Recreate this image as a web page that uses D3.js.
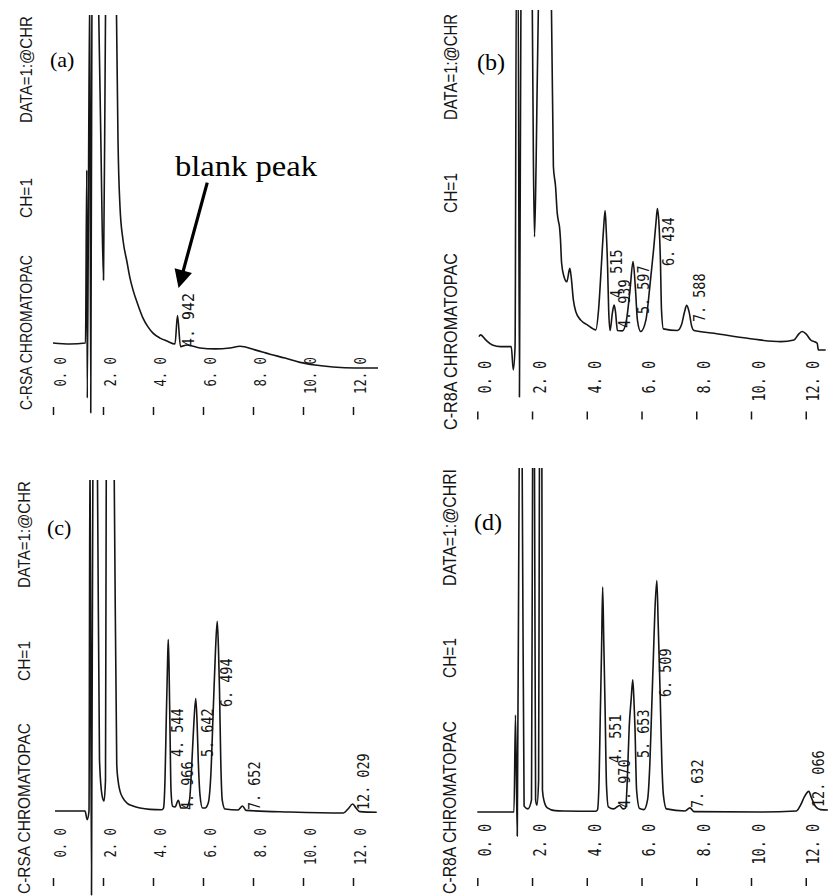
<!DOCTYPE html>
<html>
<head>
<meta charset="utf-8">
<script src="https://cdn.jsdelivr.net/npm/d3@7"></script>
<style>
  body { margin: 0; background: #fff; }
  svg { display: block; }
</style>
</head>
<body>
<div id="wrapper"></div>
<script>
// retention time axis (min)
const retentionTicks = [0, 2, 4, 6, 8, 10, 12]
const tickLabels = ['0. 0', '2. 0', '4. 0', '6. 0', '8. 0', '10. 0', '12. 0']
const panelNames = ['(a)', '(b)', '(c)', '(d)']

// printer header of each run
const headerA = ['C-RSA  CHROMATOPAC', 'CH=1', 'DATA=1:@CHR']
const headerB = ['C-R8A  CHROMATOPAC', 'CH=1', 'DATA=1:@CHR']
const headerC = ['C-RSA  CHROMATOPAC', 'CH=1', 'DATA=1:@CHR']
const headerD = ['C-R8A  CHROMATOPAC', 'CH=1', 'DATA=1:@CHRI']

// detector signal, [time (min), % of full scale]
const traceA = [
  [0, 0], [0.68, -0.3], [1.30, 0], [1.35, 52.7], [1.37, -16.8], [1.47, 110],
  [1.51, -21.3], [1.56, 110], [1.68, 130], [1.83, 100], [1.92, 58.8], [2.02, 19.2],
  [2.10, 100], [2.16, 130], [2.44, 130], [2.54, 100], [2.60, 61.9], [2.68, 41.5],
  [2.80, 31.4], [2.96, 24.7], [3.08, 19.8], [3.20, 16.2], [3.40, 11.6], [3.60, 7.6],
  [3.80, 4.9], [4.00, 3.0], [4.28, 1.5], [4.56, 0.6], [4.88, -0.3], [4.98, 8.4],
  [5.10, -1.1], [5.36, -0.6], [5.88, -1.5], [6.48, -1.8], [7.08, -1.5], [7.48, -1.0],
  [8.08, -2.1], [8.68, -3.4], [9.28, -4.6], [9.88, -5.9], [10.48, -6.7], [11.20, -7.3],
  [12.08, -7.6], [13.00, -7.6],
]
const traceB = [
  [0.06, 2.8], [0.12, 3.3], [0.31, 1.8], [0.55, 0.3], [0.86, -0.2], [1.24, -0.2],
  [1.315, -7.1], [1.38, -0.1], [1.43, 115], [1.49, 115], [1.54, -15.2], [1.60, 115],
  [1.93, 130], [2.01, 100], [2.05, 55], [2.09, 32.5], [2.15, 55], [2.23, 100],
  [2.47, 130], [2.71, 100], [2.78, 53.4], [2.86, 47.4], [2.92, 39.6], [2.97, 36.9],
  [3.00, 35.7], [3.04, 31.5], [3.08, 24.7], [3.17, 20.6], [3.27, 19.1], [3.38, 23.1],
  [3.43, 20.6], [3.51, 13.7], [3.60, 10.2], [3.78, 7.7], [4.02, 6.3], [4.33, 4.8],
  [4.43, 10.7], [4.53, 23.6], [4.61, 34.5], [4.67, 40.3], [4.71, 34.5], [4.76, 23.6],
  [4.80, 10.7], [4.85, 4.6], [4.94, 10.1], [5.00, 12.2], [5.05, 10.1], [5.12, 4.6],
  [5.30, 4.5], [5.45, 7.7], [5.58, 16.7], [5.69, 25.1], [5.78, 16.7], [5.85, 7.7],
  [5.97, 4.3], [6.16, 7.7], [6.31, 18.2], [6.44, 28.6], [6.53, 36.9], [6.58, 40.9],
  [6.64, 36.0], [6.69, 25.6], [6.73, 10.7], [6.80, 5.1], [7.31, 4.6], [7.46, 6.3],
  [7.57, 10.1], [7.65, 12.1], [7.74, 10.1], [7.83, 6.0], [7.92, 4.6], [8.65, 3.8],
  [9.87, 2.3], [11.09, 1.3], [11.57, 1.8], [11.75, 3.6], [11.87, 4.3], [12.01, 3.6],
  [12.18, 1.8], [12.42, 0.8], [12.46, -1.2], [12.73, -1.2],
]
const traceC = [
  [0.08, 0], [1.28, 0], [1.37, -2.6], [1.44, 0], [1.48, 115], [1.54, -25.4],
  [1.60, 115], [1.72, 130], [1.78, 100], [1.86, 15.4], [1.96, 4.8], [2.04, 3.0],
  [2.10, 9.4], [2.13, 100], [2.20, 130], [2.40, 130], [2.45, 100], [2.55, 14.0],
  [2.60, 9.4], [2.68, 6.0], [2.80, 3.9], [2.96, 2.4], [3.20, 1.5], [3.48, 0.9],
  [3.88, 0.5], [4.35, 0.4], [4.42, 0.9], [4.48, 9.4], [4.53, 27.5], [4.58, 44.1],
  [4.61, 51.8], [4.64, 44.1], [4.68, 24.5], [4.72, 6.3], [4.78, 1.5], [4.88, 1.2],
  [5.01, 3.2], [5.12, 0.9], [5.32, 0.9], [5.46, 3.3], [5.54, 12.4], [5.62, 24.5],
  [5.71, 34.0], [5.76, 27.5], [5.81, 15.4], [5.88, 4.8], [5.98, 0.9], [6.08, 0.9],
  [6.21, 2.4], [6.31, 10.4], [6.41, 30.5], [6.50, 48.6], [6.57, 57.3], [6.62, 48.6],
  [6.66, 36.6], [6.71, 15.4], [6.77, 3.3], [6.88, 0.6], [7.40, 0.3], [7.58, 1.5],
  [7.72, 0.2], [9.48, -0.3], [11.61, -0.6], [11.80, 0.6], [11.99, 2.1], [12.12, 0.9],
  [12.28, -0.2], [12.95, -0.4],
]
const traceD = [
  [0, 0], [1.34, 0], [1.395, 28.2], [1.46, -7.0], [1.53, 100], [1.59, 125],
  [1.64, 100], [1.71, 1.7], [1.85, 0.9], [1.98, 3.5], [2.02, 100], [2.05, 125],
  [2.09, 100], [2.13, 3.5], [2.18, 2.0], [2.24, 9.3], [2.27, 100], [2.31, 125],
  [2.36, 100], [2.38, 6.4], [2.44, 3.2], [2.56, 1.2], [2.84, 0.4], [3.17, 0.3],
  [4.33, 0.2], [4.39, 0.6], [4.45, 9.3], [4.49, 26.7], [4.54, 47.1], [4.58, 65.4],
  [4.62, 50.0], [4.67, 29.7], [4.72, 7.8], [4.79, 1.5], [4.98, 0.9], [5.20, 1.9],
  [5.32, 0.9], [5.42, 1.2], [5.48, 9.3], [5.55, 24.7], [5.62, 32.6], [5.68, 38.4],
  [5.73, 31.1], [5.76, 24.7], [5.82, 6.4], [5.93, 1.0], [6.09, 0.7], [6.22, 3.5],
  [6.31, 15.1], [6.37, 29.7], [6.43, 44.2], [6.49, 58.7], [6.56, 67.3], [6.61, 54.4],
  [6.68, 34.6], [6.74, 15.1], [6.80, 4.9], [6.91, 0.9], [7.59, 0.3], [7.77, 1.2],
  [7.92, 0.1], [10.33, 0], [11.66, 0.3], [11.81, 2.0], [11.95, 4.4], [12.11, 6.0],
  [12.21, 4.1], [12.35, 1.7], [12.54, 0.7], [12.81, 0.6],
]

// retention times printed by the integrator
const peaksA = [4.942]
const peaksB = [4.515, 4.939, 5.597, 6.434, 7.588]
const peaksC = [4.544, 4.966, 5.642, 6.494, 7.652, 12.029]
const peaksD = [4.551, 4.970, 5.653, 6.509, 7.632, 12.066]

const blankPeakText = 'blank peak'

// page layout of the four scanned panels
const panels = [
  {
    trace: traceA, peaks: peaksA, header: headerA,
    left: 0, width: 414, x0: 53, ppm: 25, baseY: 343, topY: 15, bottomY: 448,
    tickTop: 407, labelTop: 357, headerX: 26,
    headerSpan: [[410, 255], [218, 178], [123, 16]],
    nameX: 50, nameY: 67, labelSize: 16, labelAdv: 9,
    labelPos: [[12, 4]],
  },
  {
    trace: traceB, peaks: peaksB, header: headerB,
    left: 414, width: 414, x0: 477.3, ppm: 27.37, baseY: 346, topY: 10, bottomY: 448,
    tickTop: 411.5, labelTop: 361, headerX: 450,
    headerSpan: [[430, 253], [213, 173], [120, 14]],
    nameX: 477, nameY: 70, labelSize: 15.5, labelAdv: 8.1,
    labelPos: [[16, -48], [12.5, -18], [13.5, -32], [15.6, -80], [15, -24]],
  },
  {
    trace: traceC, peaks: peaksC, header: headerC,
    left: 0, width: 414, x0: 53, ppm: 25, baseY: 811, topY: 480, bottomY: 896,
    tickTop: 878, labelTop: 828, headerX: 24.5,
    headerSpan: [[894, 723], [681, 641], [588, 481]],
    nameX: 47, nameY: 535, labelSize: 15.5, labelAdv: 8.1,
    labelPos: [[11.4, -54], [10.8, -1], [14, -54], [11.3, -104], [10.7, -1], [9.8, -1]],
  },
  {
    trace: traceD, peaks: peaksD, header: headerD,
    left: 414, width: 414, x0: 477.3, ppm: 27.37, baseY: 812, topY: 468, bottomY: 896,
    tickTop: 878, labelTop: 824, headerX: 449,
    headerSpan: [[894, 721], [678, 638], [586, 469]],
    nameX: 474, nameY: 530, labelSize: 15.5, labelAdv: 8.1,
    labelPos: [[13.6, -49], [11.7, -4], [12, -54], [10.5, -115], [11.3, -4], [11, -5]],
  },
]

const ink = '#151515'
const peakFormat = t => d3.format('.3f')(t).replace('.', '. ')

const svg = d3.select('#wrapper')
  .append('svg')
  .attr('width', 828)
  .attr('height', 896)

svg.append('rect')
  .attr('width', 828)
  .attr('height', 896)
  .attr('fill', '#fff')

// squeeze a rotated text so it spans `length` px, keeping its box honest
function squeeze(selection, origin, length) {
  selection.each(function (d, j) {
    const natural = this.getComputedTextLength()
    const sx = length(d, j) / natural
    const [x, y] = origin(d, j)
    d3.select(this)
      .attr('transform', `translate(${x}, ${y}) rotate(-90) scale(${sx}, 1)`)
  })
}

function drawPanel(p, i) {
  const k = p.ppm / 25

  const xScale = d3.scaleLinear()
    .domain([0, 13])
    .range([p.x0, p.x0 + 13 * p.ppm])

  const yScale = d3.scaleLinear()
    .domain([0, 100])
    .range([p.baseY, p.topY])

  svg.append('clipPath')
    .attr('id', `clip-${i}`)
    .append('rect')
    .attr('x', p.left)
    .attr('y', p.topY)
    .attr('width', p.width)
    .attr('height', p.bottomY - p.topY)

  const bounds = svg.append('g')
    .attr('clip-path', `url(#clip-${i})`)

  // printer header, rotated like the paper strip
  svg.selectAll(`.header-${i}`)
    .data(p.header)
    .enter().append('text')
    .attr('class', `header-${i}`)
    .attr('dy', '0.35em')
    .attr('font-family', 'Liberation Sans, Arial, sans-serif')
    .attr('font-size', 17 * k)
    .attr('fill', ink)
    .text(d => d)
    .call(squeeze,
      (d, j) => [p.headerX, p.headerSpan[j][0]],
      (d, j) => p.headerSpan[j][0] - p.headerSpan[j][1])

  const lineGenerator = d3.line()
    .x(d => xScale(d[0]))
    .y(d => yScale(d[1]))
    .curve(d3.curveMonotoneX)

  bounds.append('path')
    .datum(p.trace)
    .attr('d', lineGenerator)
    .attr('fill', 'none')
    .attr('stroke', ink)
    .attr('stroke-width', 1.6)
    .attr('stroke-linejoin', 'round')

  // retention time labels
  svg.selectAll(`.peak-${i}`)
    .data(p.peaks)
    .enter().append('text')
    .attr('class', `peak-${i}`)
    .attr('dy', '0.35em')
    .attr('font-family', 'DejaVu Sans Mono, monospace')
    .attr('font-size', p.labelSize)
    .attr('fill', ink)
    .text(peakFormat)
    .call(squeeze,
      (d, j) => [xScale(d) + p.labelPos[j][0], yScale(0) + p.labelPos[j][1]],
      d => peakFormat(d).length * p.labelAdv)

  const xAxisGenerator = d3.axisBottom()
    .scale(xScale)
    .tickValues(retentionTicks)
    .tickSize(8)
    .tickFormat((d, j) => tickLabels[j])

  const xAxis = svg.append('g')
    .attr('transform', `translate(0, ${p.tickTop})`)
    .call(xAxisGenerator)

  xAxis.attr('font-size', null)
  xAxis.select('.domain').remove()
  xAxis.selectAll('line')
    .attr('stroke', ink)
    .attr('stroke-width', 1.5)
  xAxis.selectAll('text')
    .attr('y', null)
    .attr('dy', '0.35em')
    .attr('text-anchor', 'end')
    .style('font-family', 'DejaVu Sans Mono, monospace')
    .style('font-size', `${16 * k}px`)
    .attr('fill', ink)
    .call(squeeze,
      () => [6.5 * k, p.labelTop - p.tickTop],
      d => tickLabels[retentionTicks.indexOf(d)].length * 7.4 * k)

  svg.append('text')
    .attr('x', p.nameX)
    .attr('y', p.nameY)
    .attr('font-family', 'Liberation Serif, Times New Roman, serif')
    .attr('font-size', 22 * k)
    .attr('fill', '#000')
    .text(panelNames[i])

  return { xScale, yScale }
}

const scales = panels.map(drawPanel)

// blank peak annotation in panel (a)
const { xScale: xA, yScale: yA } = scales[0]
const tip = [xA(peaksA[0]) + 2, yA(0) - 55]
const tail = [tip[0] + 28.7, tip[1] - 105.3]
const len = Math.hypot(tip[0] - tail[0], tip[1] - tail[1])
const ux = (tip[0] - tail[0]) / len
const uy = (tip[1] - tail[1]) / len
const headLen = 18
const headHalf = 9
const base = [tip[0] - ux * headLen, tip[1] - uy * headLen]

svg.append('line')
  .attr('x1', tail[0])
  .attr('y1', tail[1])
  .attr('x2', base[0] + ux * 2)
  .attr('y2', base[1] + uy * 2)
  .attr('stroke', '#000')
  .attr('stroke-width', 3.2)

svg.append('path')
  .attr('d', d3.line()([
    tip,
    [base[0] - uy * headHalf, base[1] + ux * headHalf],
    [base[0] + uy * headHalf, base[1] - ux * headHalf],
  ]) + 'Z')
  .attr('fill', '#000')

svg.append('text')
  .attr('x', 175)
  .attr('y', 176)
  .attr('font-family', 'Liberation Serif, Times New Roman, serif')
  .attr('font-size', 30)
  .attr('textLength', 142)
  .attr('lengthAdjust', 'spacingAndGlyphs')
  .attr('fill', '#000')
  .text(blankPeakText)
</script>
</body>
</html>
